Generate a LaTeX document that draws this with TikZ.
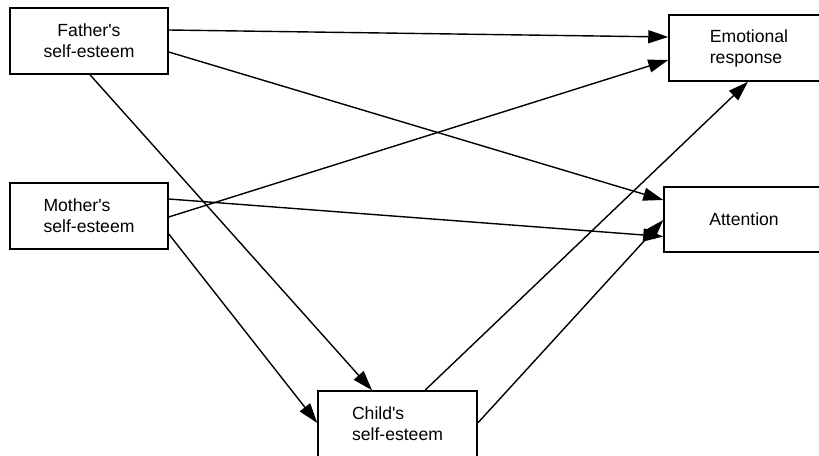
\documentclass[tikz,border=0pt]{standalone}
\usepackage{fontspec}
\setmainfont{Liberation Sans}
\usetikzlibrary{arrows.meta,calc}
\begin{document}
\begin{tikzpicture}[x=1pt,y=-1pt,
  box/.style={draw=black,line width=1.5pt,fill=white,minimum height=66pt,inner sep=0pt,align=left,font=\fontsize{17.6}{21}\selectfont},
  conn/.style={line width=1.4pt,-{Triangle[length=20pt,width=13pt]}}]
\clip (0,0) rectangle (819,455);
\fill[white] (0,0) rectangle (819,455);
\node[box,minimum width=158pt,align=center] (father) at (89,41) {Father\textquotesingle s\\self-esteem};
\node[box,minimum width=158pt] (mother) at (89,216) {Mother\textquotesingle s\\self-esteem};
\node[box,minimum width=159pt] (child) at (397.5,424) {Child\textquotesingle s\\self-esteem};
\node[box,minimum width=160pt] (emo) at (749,48) {Emotional\\response};
\node[box,minimum width=160pt,minimum height=65pt] (att) at (744,219.5) {Attention};
\draw[conn] ($(father.east)+(0,-11)$) -- ($(emo.west)+(0,-11)$);
\draw[conn] ($(father.east)+(0,11)$) -- ($(att.west)+(0,-19.5)$);
\draw[conn] ($(father.south)+(1,0)$) -- ($(child.north)+(-25.5,0)$);
\draw[conn] ($(mother.east)+(0,1)$) -- ($(emo.west)+(0,12)$);
\draw[conn] ($(mother.east)+(0,-17)$) -- ($(att.west)+(0,17)$);
\draw[conn] ($(mother.east)+(0,18)$) -- ($(child.west)+(0,-1)$);
\draw[conn] ($(child.north)+(27.5,0)$) -- ($(emo.south)+(-1,0)$);
\draw[conn] ($(child.east)+(0,-1)$) -- ($(att.west)+(0,0.5)$);
\end{tikzpicture}
\end{document}
